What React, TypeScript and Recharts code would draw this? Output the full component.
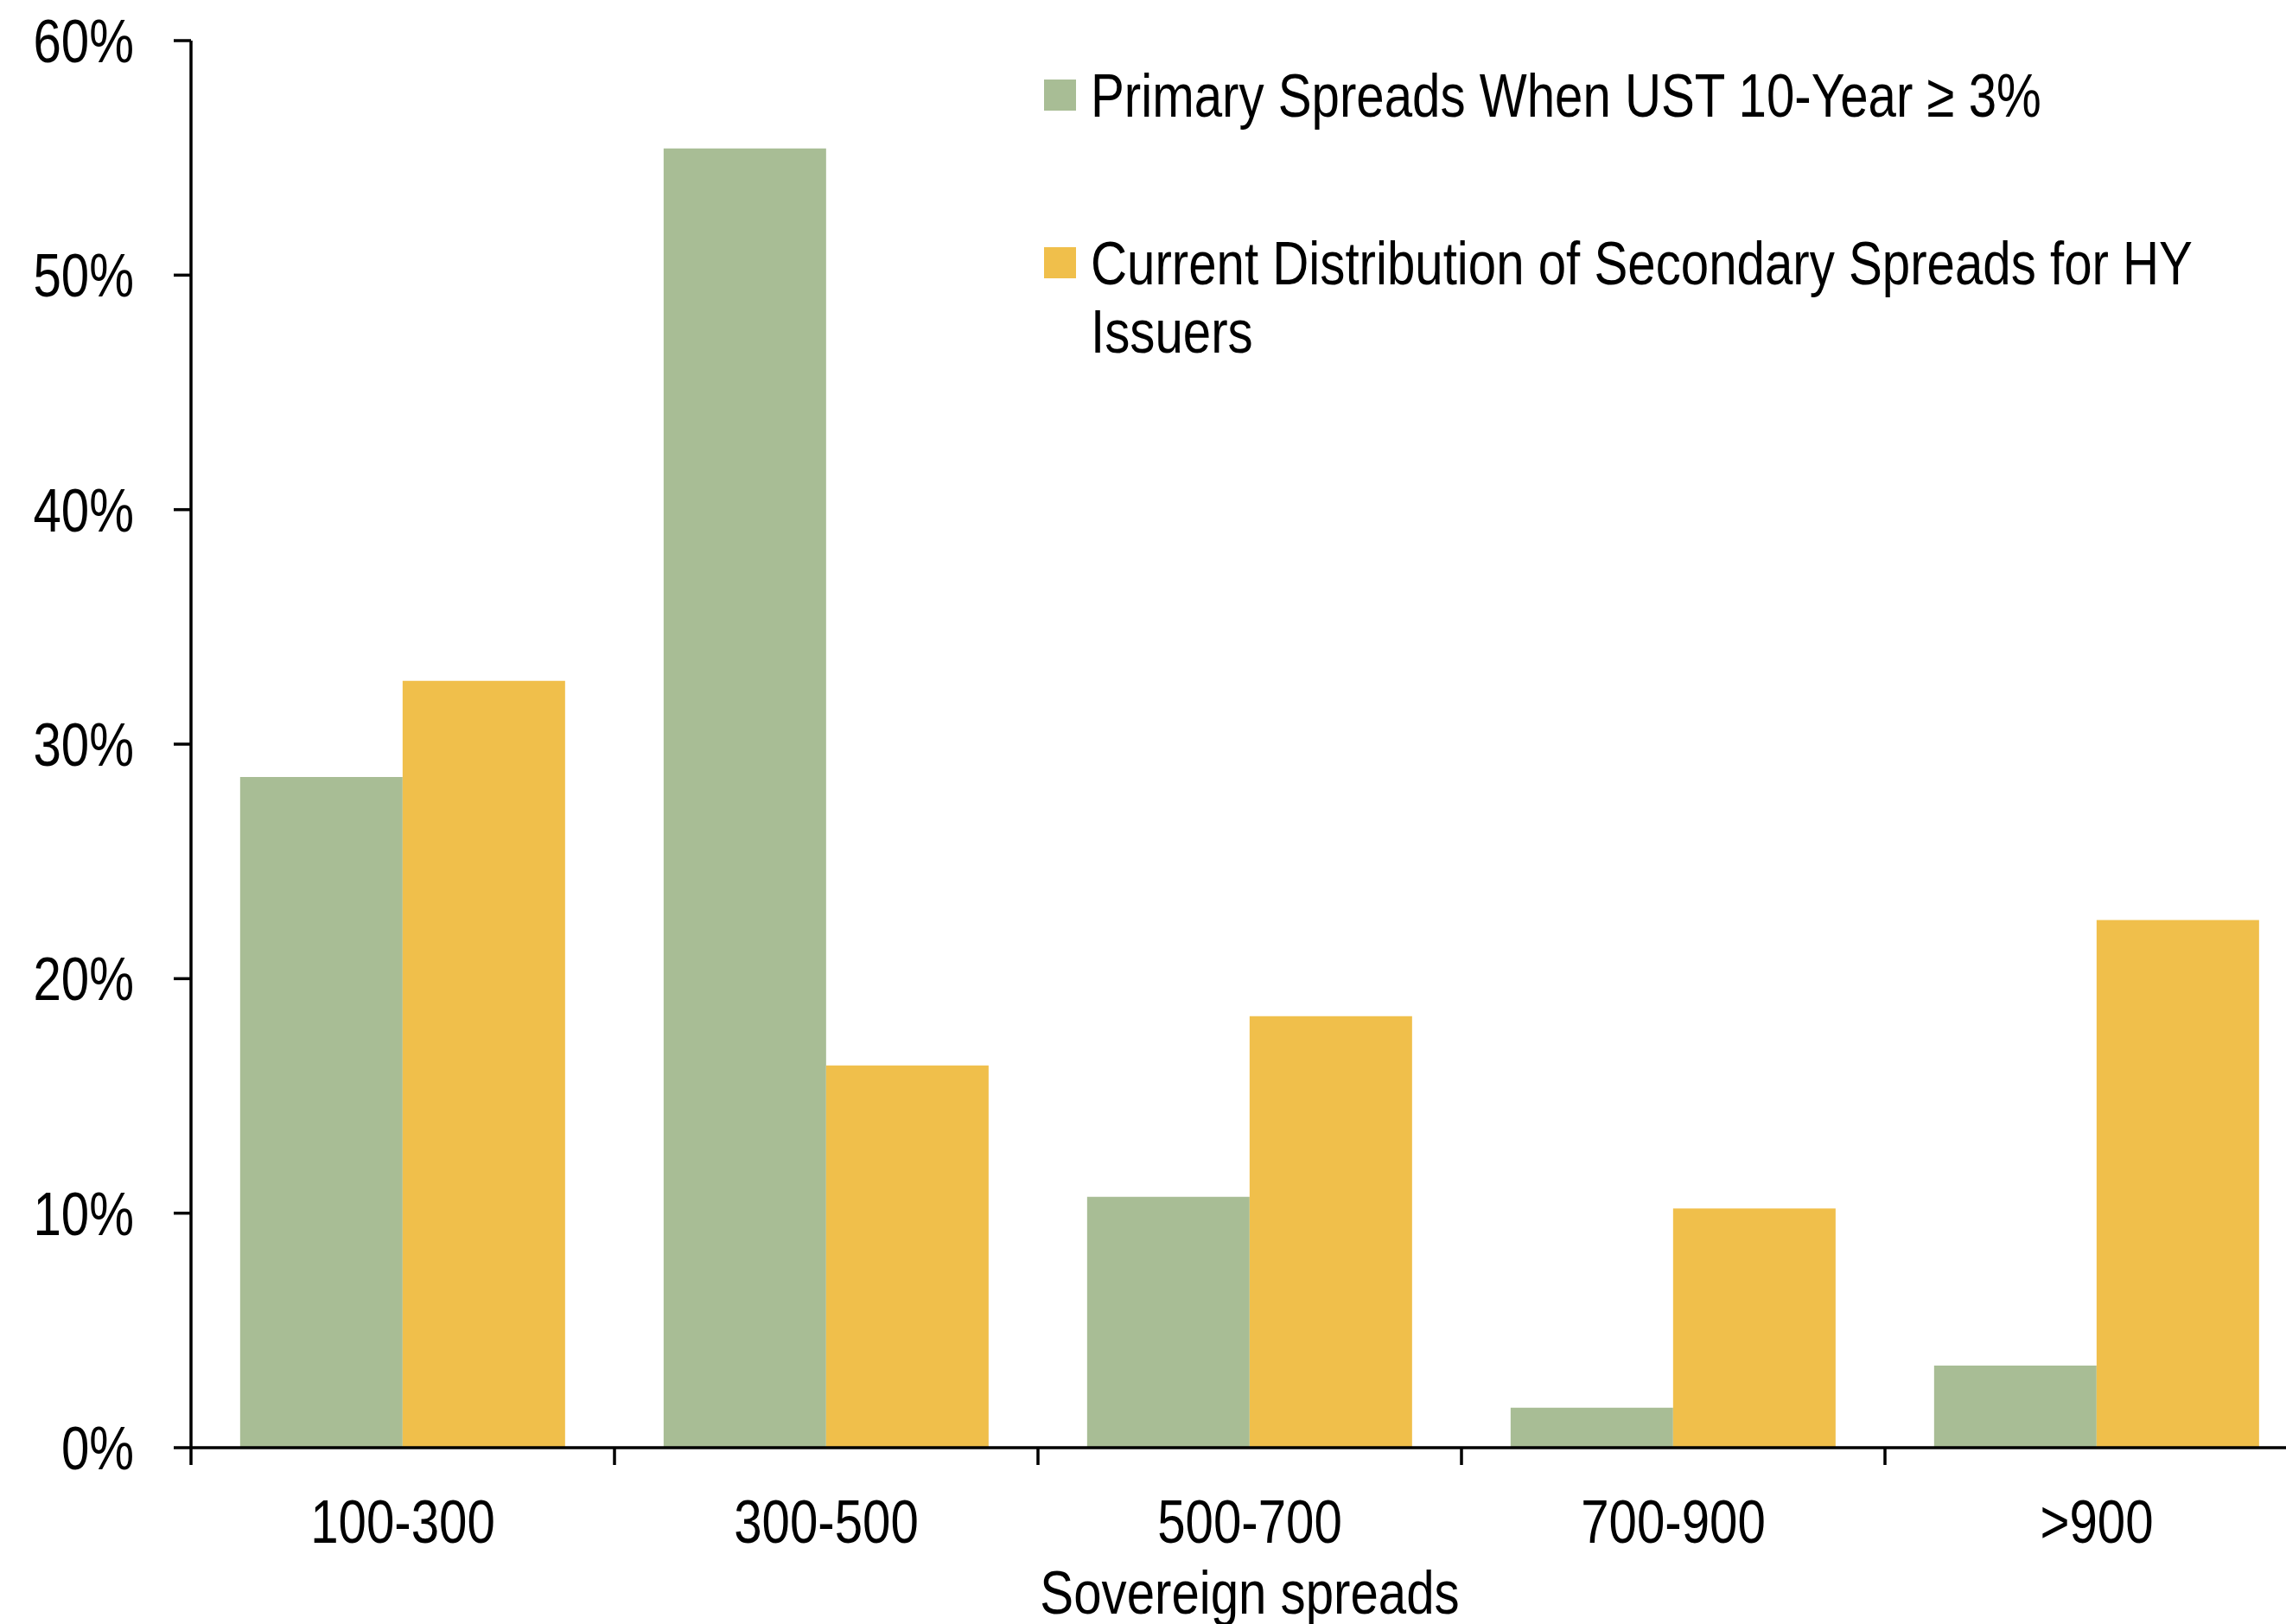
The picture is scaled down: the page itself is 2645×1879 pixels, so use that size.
import React from 'react';
import { BarChart, Bar, XAxis, YAxis, Legend } from 'recharts';

const categories = ['100-300', '300-500', '500-700', '700-900', '>900'];
const primarySpreads = [28.6, 55.4, 10.7, 1.7, 3.5];
const secondarySpreads = [32.7, 16.3, 18.4, 10.2, 22.5];
const yTicks = [0, 10, 20, 30, 40, 50, 60];

const PRIMARY_NAME = 'Primary Spreads When UST 10-Year \u2265 3%';
const SECONDARY_NAME = 'Current Distribution of Secondary Spreads for HY Issuers';

const data = categories.map((range, i) => ({
  range,
  primary: primarySpreads[i],
  secondary: secondarySpreads[i],
}));

// narrow sans: Liberation Sans squeezed horizontally
const FONT = '"Liberation Sans", Arial, sans-serif';
const SQUEEZE = 0.82;
const GREEN = '#A8BD95';
const GOLD = '#F0BF4B';
const TICK_SIZE = 20;
const TICK_MARGIN = 39;
const LEGEND_TEXT_W = 1345;

const NarrowText = ({ x, y, anchor, dy, size, children }: any) => (
  <text
    transform={`translate(${x},${y}) scale(${SQUEEZE},1)`}
    dy={dy}
    textAnchor={anchor}
    fontSize={size}
    fill="#000"
    fontFamily={FONT}
  >
    {children}
  </text>
);

// category ticks sit on the band edges, labels stay in the middle
const CategoryTick = (props: any) => {
  const { x, y, payload } = props;
  const edge = x - (payload.offset || 0);
  const axisY = y - TICK_SIZE - TICK_MARGIN;
  return (
    <g>
      <line x1={edge} y1={axisY} x2={edge} y2={axisY + TICK_SIZE} stroke="#000" strokeWidth={3.5} />
      <NarrowText x={x} y={y} dy={51} anchor="middle" size={71}>
        {payload.value}
      </NarrowText>
    </g>
  );
};

const PercentTick = (props: any) => {
  const { x, y, payload } = props;
  return (
    <NarrowText x={x} y={y} dy={25} anchor="end" size={71}>
      {`${payload.value}%`}
    </NarrowText>
  );
};

const AxisTitle = (props: any) => {
  const { viewBox } = props;
  return (
    <NarrowText x={viewBox.x + viewBox.width / 2} y={viewBox.y + viewBox.height - 12} anchor="middle" size={71}>
      Sovereign spreads
    </NarrowText>
  );
};

const legendItems = [
  { name: PRIMARY_NAME, color: GREEN },
  { name: SECONDARY_NAME, color: GOLD },
];

const renderLegend = () => (
  <div style={{ fontFamily: FONT, fontSize: 71, lineHeight: '79px', color: '#000', textAlign: 'left' }}>
    {legendItems.map((item, i) => (
      <div key={item.name} style={{ display: 'flex', alignItems: 'flex-start', marginTop: i === 0 ? 0 : 115 }}>
        <div style={{ width: 37, height: 36, background: item.color, marginTop: 21, flexShrink: 0 }} />
        <div style={{ marginLeft: 17, width: LEGEND_TEXT_W, height: i === 0 ? 79 : 158 }}>
          <div
            style={{
              width: LEGEND_TEXT_W / SQUEEZE,
              transform: `scaleX(${SQUEEZE})`,
              transformOrigin: 'left top',
            }}
          >
            {item.name}
          </div>
        </div>
      </div>
    ))}
  </div>
);

export default function App() {
  return (
    <div style={{ position: 'fixed', left: 0, top: 0, width: 2645, height: 1879, overflow: 'hidden', background: '#fff' }}>
      <BarChart
        width={2700}
        height={1879}
        data={data}
        margin={{ top: 47, right: 29, left: 0, bottom: 0 }}
        barCategoryGap="11.6%"
        barGap={0}
      >
        <XAxis
          dataKey="range"
          height={204}
          axisLine={{ stroke: '#000', strokeWidth: 3.5 }}
          tickLine={false}
          tickSize={TICK_SIZE}
          tickMargin={TICK_MARGIN}
          interval={0}
          tick={<CategoryTick />}
          label={<AxisTitle />}
        />
        <YAxis
          width={221}
          domain={[0, 60]}
          ticks={yTicks}
          interval={0}
          axisLine={{ stroke: '#000', strokeWidth: 3.5 }}
          tickLine={{ stroke: '#000', strokeWidth: 3.5 }}
          tickSize={TICK_SIZE}
          tickMargin={46}
          tick={<PercentTick />}
        />
        <Legend
          layout="vertical"
          align="center"
          verticalAlign="middle"
          content={renderLegend}
          wrapperStyle={{ left: 1208, top: 71, width: 1420 }}
        />
        <Bar dataKey="primary" name={PRIMARY_NAME} fill={GREEN} isAnimationActive={false} />
        <Bar dataKey="secondary" name={SECONDARY_NAME} fill={GOLD} isAnimationActive={false} />
      </BarChart>
    </div>
  );
}
